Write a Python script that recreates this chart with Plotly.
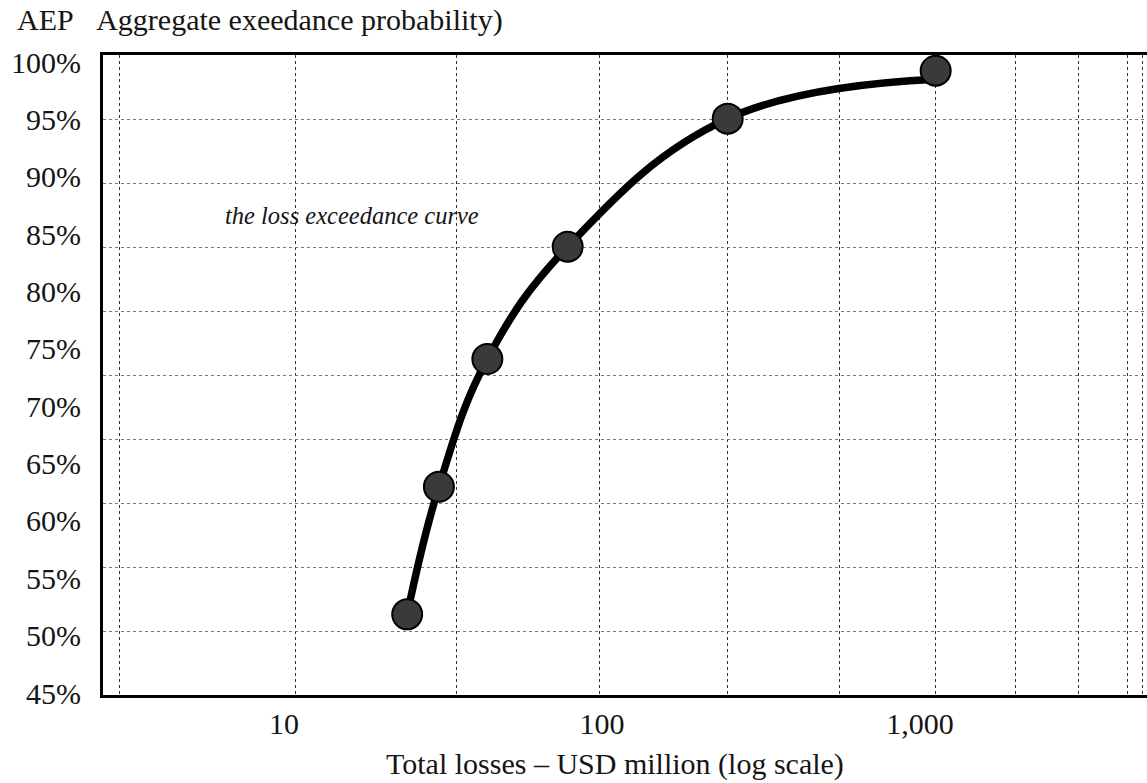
import plotly.graph_objects as go

# ---- data ----
loss_usd_m = [24.4, 30.7, 43.6, 78.0, 248.5, 1120.5]          # x (log scale)
aep_pct = [51.86, 62.98, 74.11, 83.90, 95.06, 99.24]          # y (%)
curve_aep_pct = [51.86, 62.98, 74.11, 83.90, 95.06, 98.5]     # curve levels (ends flat just under last marker)

x_tick_vals = [10, 100, 1000]
x_tick_text = ["10", "100", "1,000"]
y_tick_vals = [45, 50, 55, 60, 65, 70, 75, 80, 85, 90, 95, 100]
y_tick_text = [f"{v}%" for v in y_tick_vals]

# grid lines as drawn in the reference (not aligned with labels)
x_grid_vals = [3.028, 10.83, 34.75, 98.06, 248.5, 557.5, 1120.5, 2004, 3162, 4493, 5009]
y_grid_vals = [95.032, 89.453, 83.875, 78.296, 72.718, 67.140, 61.561, 55.983, 50.404]

FONT = "Liberation Serif, Times New Roman, serif"
TXT = "#151515"

fig = go.Figure()

fig.add_trace(go.Scatter(
    x=loss_usd_m, y=curve_aep_pct, mode="lines",
    line=dict(color="black", width=7.5, shape="spline", smoothing=1.15),
    hoverinfo="skip", showlegend=False,
))
fig.add_trace(go.Scatter(
    x=loss_usd_m, y=aep_pct, mode="markers",
    marker=dict(size=30, color="#3a3a3a", line=dict(color="black", width=2)),
    showlegend=False,
))

fig.update_layout(
    width=1147, height=783,
    margin=dict(l=103, r=0, t=55, b=88),
    paper_bgcolor="white", plot_bgcolor="white",
    font=dict(family=FONT, size=30, color=TXT),
    title=dict(
        text="AEP\u00a0\u00a0\u00a0Aggregate exeedance probability)",
        x=17 / 1147, xanchor="left", xref="container",
        y=1 - 19 / 783, yanchor="middle", yref="container",
        font=dict(family=FONT, size=30, color=TXT),
    ),
    xaxis=dict(
        type="log", range=[0.4308, 3.714], automargin=False,
        tickmode="array", tickvals=x_tick_vals, ticktext=x_tick_text,
        showgrid=False, ticks="", ticklabelstandoff=0,
        showline=True, linecolor="black", linewidth=3, mirror=True,
        zeroline=False,
        minor=dict(tickmode="array", tickvals=x_grid_vals, showgrid=True,
                   gridcolor="#333", gridwidth=1, griddash="dot", ticks=""),
    ),
    yaxis=dict(
        range=[44.83, 100.61], automargin=False,
        tickmode="array", tickvals=y_tick_vals, ticktext=y_tick_text,
        showgrid=False, ticks="", ticklabelstandoff=13,
        showline=True, linecolor="black", linewidth=3, mirror=False,
        zeroline=False,
        minor=dict(tickmode="array", tickvals=y_grid_vals, showgrid=True,
                   gridcolor="#777", gridwidth=1, griddash="dot", ticks=""),
    ),
    annotations=[
        dict(
            text="<i>the loss exceedance curve</i>",
            xref="paper", yref="paper", x=(351.5 - 103) / 1044, y=(695 - 215) / 640,
            xanchor="center", yanchor="middle", showarrow=False,
            font=dict(family=FONT, size=24.5, color=TXT),
        ),
        dict(  # x-axis title
            text="Total losses \u2013 USD million (log scale)",
            xref="paper", yref="paper", x=(615 - 103) / 1044, y=(695 - 764) / 640,
            xanchor="center", yanchor="middle", showarrow=False,
            font=dict(family=FONT, size=30, color=TXT),
        ),
    ],
)

fig.write_html(
    "out.html",
    config={"displayModeBar": False},
    post_script="document.body.style.margin='0';document.body.style.overflow='hidden';",
)
